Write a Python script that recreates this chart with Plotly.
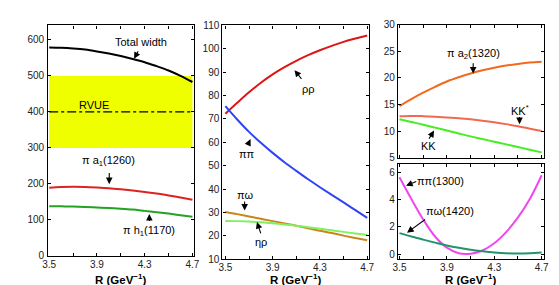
import plotly.graph_objects as go

R = [3.5, 3.6, 3.7, 3.8, 3.9, 4.0, 4.1, 4.2, 4.3, 4.4, 4.5, 4.6, 4.7]

# Panel 1 (MeV)
total_width = [579, 578, 576, 573, 568, 562, 555, 547, 538, 527, 515, 500, 483]
pi_a1 = [189, 191, 192, 191.5, 190, 188, 185, 181.5, 177.5, 173, 168, 162, 156]
pi_h1 = [138, 137.5, 137, 136, 134.5, 133, 131, 128.5, 125, 121.5, 117.5, 113, 108.5]
rvue_low, rvue_mid, rvue_high = 300, 400, 500

# Panel 2
rho_rho = [72.2, 76.9, 81.4, 85.5, 89.1, 92.2, 94.9, 97.3, 99.4, 101.3, 103.0, 104.4, 105.7]
pi_pi = [75.5, 69.8, 64.5, 59.8, 55.5, 51.5, 47.8, 44.2, 40.8, 37.5, 34.3, 31.0, 27.7]
pi_omega = [30.2, 29.3, 28.3, 27.3, 26.3, 25.3, 24.3, 23.2, 22.2, 21.2, 20.1, 19.1, 18.1]
eta_rho = [26.4, 26.3, 26.1, 25.8, 25.4, 24.9, 24.3, 23.7, 23.0, 22.4, 21.7, 21.0, 20.4]

# Panel 3 top
pi_a2 = [14.7, 16.0, 17.2, 18.3, 19.3, 20.1, 20.8, 21.4, 21.9, 22.3, 22.6, 22.85, 23.0]
k_kstar = [12.8, 12.85, 12.8, 12.7, 12.55, 12.4, 12.2, 11.95, 11.65, 11.3, 10.9, 10.45, 10.0]
k_k = [12.2, 11.7, 11.2, 10.65, 10.1, 9.55, 9.0, 8.5, 8.0, 7.5, 7.0, 6.5, 6.0]

# Panel 3 bottom
pi_pi1300 = [5.65, 4.05, 2.55, 1.3, 0.48, 0.07, 0.04, 0.27, 0.8, 1.62, 2.7, 4.05, 5.8]
pi_omega1420 = [1.55, 1.3, 1.07, 0.85, 0.64, 0.47, 0.33, 0.22, 0.13, 0.07, 0.05, 0.07, 0.12]

x_tickvals = [3.5, 3.7, 3.9, 4.1, 4.3, 4.5, 4.7]
x_ticktext = ["3.5", "", "3.9", "", "4.3", "", "4.7"]

FONT = "Liberation Sans, Arial, sans-serif"
fig = go.Figure()

def line(x, y, color, xa, ya, width=2, dash=None):
    fig.add_trace(go.Scatter(x=x, y=y, mode="lines", xaxis=xa, yaxis=ya,
                             line=dict(color=color, width=width, shape="spline", dash=dash),
                             showlegend=False, hoverinfo="skip"))

# Panel 1 yellow band
fig.add_trace(go.Scatter(x=[R[0], R[-1], R[-1], R[0], R[0]],
                         y=[rvue_low, rvue_low, rvue_high, rvue_high, rvue_low],
                         mode="lines", fill="toself", fillcolor="#F0FF00",
                         line=dict(width=0, color="#F0FF00"), xaxis="x", yaxis="y",
                         showlegend=False, hoverinfo="skip"))
fig.add_trace(go.Scatter(x=[R[0], R[-1]], y=[rvue_mid, rvue_mid], mode="lines",
                         line=dict(color="black", width=1.2, dash="dashdot"),
                         xaxis="x", yaxis="y", showlegend=False, hoverinfo="skip"))
line(R, total_width, "black", "x", "y")
line(R, pi_a1, "#DD2222", "x", "y")
line(R, pi_h1, "#22A322", "x", "y")

line(R, rho_rho, "#DD1515", "x2", "y2")
line(R, pi_pi, "#2E44F5", "x2", "y2")
line(R, pi_omega, "#C8861A", "x2", "y2")
line(R, eta_rho, "#80F060", "x2", "y2")

line(R, pi_a2, "#F26A1E", "x3", "y3")
line(R, k_kstar, "#F06A50", "x3", "y3")
line(R, k_k, "#44EE22", "x3", "y3")

line(R, pi_pi1300, "#EE48EE", "x4", "y4")
line(R, pi_omega1420, "#23946A", "x4", "y4")

W, H = 559, 285
def px(v):
    return v / W
def py(v):
    return 1 - v / H

axis_common = dict(showline=True, linecolor="black", linewidth=1.3, mirror="ticks",
                   ticks="inside", ticklen=3, tickcolor="black", showgrid=False,
                   zeroline=False, tickfont=dict(family=FONT, size=10, color="#222"))

fig.update_layout(
    width=W, height=H, margin=dict(l=0, r=0, t=0, b=0),
    paper_bgcolor="white", plot_bgcolor="white",
    xaxis=dict(domain=[px(35), px(183.7)], range=[3.492, 4.711], anchor="y",
               tickvals=x_tickvals, ticktext=x_ticktext, ticklabelstandoff=-1, **axis_common),
    yaxis=dict(domain=[py(252.5), py(12)], range=[0, 640], anchor="x",
               tickvals=[0, 100, 200, 300, 400, 500, 600], ticklabelstandoff=1, **axis_common),
    xaxis2=dict(domain=[px(213), px(363)], range=[3.475, 4.717], anchor="y2",
                tickvals=x_tickvals, ticktext=x_ticktext, ticklabelstandoff=-1, **axis_common),
    yaxis2=dict(domain=[py(256), py(12)], range=[10, 110], anchor="x2",
                dtick=10, tick0=10, **axis_common),
    xaxis3=dict(domain=[px(392.5), px(541.3)], range=[3.488, 4.717], anchor="y3",
                tickvals=x_tickvals, showticklabels=False, **axis_common),
    yaxis3=dict(domain=[py(150), py(11)], range=[5, 30], anchor="x3",
                dtick=5, tick0=5, **axis_common),
    xaxis4=dict(domain=[px(392.5), px(541.3)], range=[3.488, 4.717], anchor="y4",
                tickvals=x_tickvals, ticktext=x_ticktext, ticklabelstandoff=-1, **axis_common),
    yaxis4=dict(domain=[py(256), py(156.7)], range=[-0.37, 6.62], anchor="x4",
                tickvals=[0, 2, 4, 6], **axis_common),
)

anns = []
def text(x, y, t, xa, ya):
    anns.append(dict(x=x, y=y, text=t, xref=xa, yref=ya, showarrow=False,
                     font=dict(family=FONT, size=11, color="black"),
                     xanchor="center", yanchor="middle"))

def arrow(x, y, ax, ay, xa, ya):
    anns.append(dict(x=x, y=y, ax=ax, ay=ay, xref=xa, yref=ya, axref=xa, ayref=ya,
                     text="", showarrow=True, arrowhead=2, arrowsize=1.2,
                     arrowwidth=1.1, arrowcolor="black", standoff=0, startstandoff=0))

# Panel 1
text(4.271, 594.7, "Total width", "x", "y")
arrow(4.211, 547.5, 4.252, 572.5, "x", "y")
text(3.875, 418.7, "RVUE", "x", "y")
text(4.0, 263, "π a<sub>1</sub>(1260)", "x", "y")
arrow(4.003, 199.2, 4.003, 234.7, "x", "y")
text(4.339, 69.3, "π h<sub>1</sub>(1170)", "x", "y")
arrow(4.339, 116.5, 4.339, 92.5, "x", "y")

# Panel 2
text(4.201, 82.8, "ρρ", "x2", "y2")
arrow(4.085, 90.9, 4.154, 86.5, "x2", "y2")
text(3.685, 55.0, "ππ", "x2", "y2")
arrow(3.713, 61.4, 3.685, 58.4, "x2", "y2")
text(3.663, 37.3, "πω", "x2", "y2")
arrow(3.663, 30.8, 3.663, 35.3, "x2", "y2")
text(3.804, 17.3, "ηρ", "x2", "y2")
arrow(3.767, 25.9, 3.804, 20.4, "x2", "y2")

# Panel 3 top
text(4.128, 24.5, "π a<sub>2</sub>(1320)", "x3", "y3")
arrow(4.122, 20.8, 4.122, 23.0, "x3", "y3")
text(4.513, 14.0, "KK<sup>*</sup>", "x3", "y3")
arrow(4.513, 11.3, 4.513, 12.9, "x3", "y3")
text(3.742, 7.1, "KK", "x3", "y3")
arrow(3.792, 10.1, 3.742, 8.3, "x3", "y3")

# Panel 3 bottom
text(3.85, 5.38, "ππ(1300)", "x4", "y4")
arrow(3.555, 5.03, 3.654, 5.38, "x4", "y4")
text(3.93, 3.15, "πω(1420)", "x4", "y4")
arrow(3.564, 1.58, 3.729, 2.63, "x4", "y4")

# x axis titles
for cx in [(35 + 183.7) / 2, (213 + 363) / 2, (392.5 + 541.3) / 2]:
    anns.append(dict(x=px(cx), y=py(285), xref="paper", yref="paper",
                     text="<b>R (GeV<sup>−1</sup>)</b>", showarrow=False,
                     font=dict(family=FONT, size=11.5, color="black"),
                     xanchor="center", yanchor="bottom", borderpad=0))

fig.update_layout(annotations=anns)
fig.write_html("out.html")
